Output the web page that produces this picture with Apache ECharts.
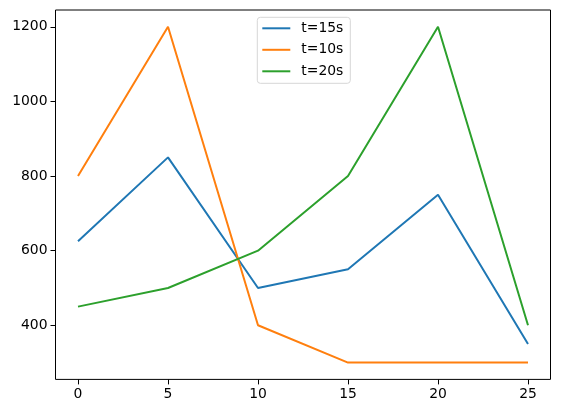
<!DOCTYPE html>
<html><head><meta charset="utf-8">
<script src="https://cdn.jsdelivr.net/npm/echarts@6/dist/echarts.min.js"></script>
<style>html,body{margin:0;padding:0;background:#fff}#c{width:561px;height:413px}</style>
</head><body><div id="c"></div>
<script>
const xValues = [0, 5, 10, 15, 20, 25];
const seriesNames = ['t=15s', 't=10s', 't=20s'];
const t15 = [625, 850, 500, 550, 750, 350];
const t10 = [800, 1200, 400, 300, 300, 300];
const t20 = [450, 500, 600, 800, 1200, 400];
const xTicks = [0, 5, 10, 15, 20, 25];
const yTicks = [400, 600, 800, 1000, 1200];
const colors = ['#1f77b4', '#ff7f0e', '#2ca02c'];
const allData = [t15, t10, t20];

const chart = echarts.init(document.getElementById('c'));
const font = 'DejaVu Sans';
chart.setOption({
  animation: false,
  grid: {left: 55.5, right: 10.5, top: 10, bottom: 33.6, show: true, borderColor: '#000', borderWidth: 1, backgroundColor: 'transparent'},
  xAxis: {
    type: 'value', min: -1.25, max: 26.25,
    axisLine: {show: false, onZero: false},
    splitLine: {show: false},
    axisTick: {show: true, length: 5, lineStyle: {color: '#000', width: 1}, customValues: xTicks},
    axisLabel: {color: '#000', fontFamily: font, fontSize: 13.9, margin: 8, customValues: xTicks, formatter: v => String(v)}
  },
  yAxis: {
    type: 'value', min: 255, max: 1245,
    axisLine: {show: false, onZero: false},
    splitLine: {show: false},
    axisTick: {show: true, length: 5, lineStyle: {color: '#000', width: 1}, customValues: yTicks},
    axisLabel: {color: '#000', fontFamily: font, fontSize: 13.9, margin: 8, customValues: yTicks, formatter: v => String(v)}
  },
  legend: {
    orient: 'vertical', left: 257.3, top: 17.3,
    icon: 'rect', itemWidth: 28, itemHeight: 2, itemGap: 7.5,
    padding: [4, 7, 5, 5],
    backgroundColor: 'rgba(255,255,255,0.8)', borderColor: '#d6d6d6', borderWidth: 1, borderRadius: 3,
    textStyle: {color: '#000', fontFamily: font, fontSize: 13.9, lineHeight: 14, padding: [0, 0, 0, 6]},
    data: seriesNames
  },
  series: seriesNames.map((n, i) => ({
    name: n, type: 'line', showSymbol: false, symbol: 'none',
    color: colors[i],
    lineStyle: {width: 2, color: colors[i]},
    data: xValues.map((x, j) => [x, allData[i][j]])
  }))
});
</script></body></html>
